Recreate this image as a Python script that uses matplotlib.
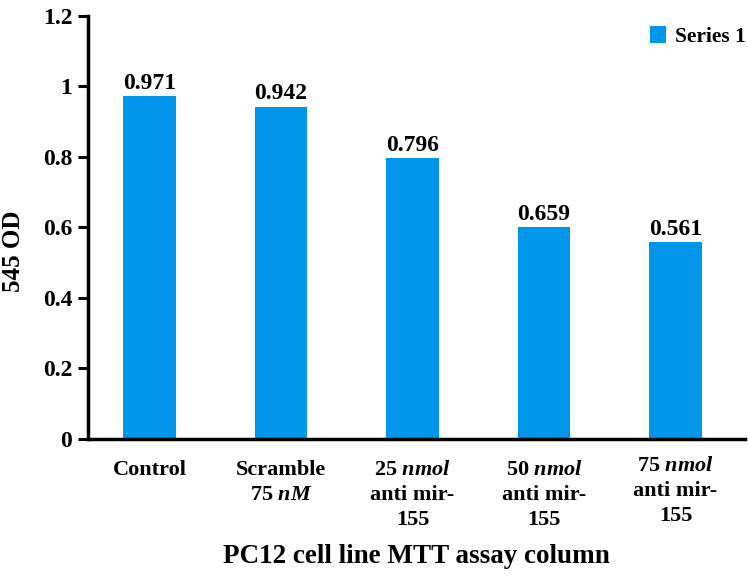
import matplotlib
matplotlib.use("Agg")
import matplotlib.pyplot as plt
from matplotlib.transforms import ScaledTranslation

plt.rcParams["font.family"] = ["Liberation Serif", "DejaVu Serif"]
plt.rcParams["mathtext.fontset"] = "custom"
plt.rcParams["mathtext.rm"] = "Liberation Serif:bold"
plt.rcParams["mathtext.it"] = "Liberation Serif:italic:bold"
plt.rcParams["mathtext.bf"] = "Liberation Serif:bold"

# data
categories = [
    "Control",
    "Scramble\n75 $\\it{nM}$",
    "25 $\\it{nmol}$\nanti mir-\n155",
    "50 $\\it{nmol}$\nanti mir-\n155",
    "75 $\\it{nmol}$\nanti mir-\n155",
]
bar_heights = [0.971, 0.942, 0.796, 0.6, 0.557]
value_labels = ["0.971", "0.942", "0.796", "0.659", "0.561"]
y_ticks = [0, 0.2, 0.4, 0.6, 0.8, 1, 1.2]
y_tick_labels = ["0", "0.2", "0.4", "0.6", "0.8", "1", "1.2"]

BAR_COLOR = "#0096EA"

fig = plt.figure(figsize=(7.48, 5.81), dpi=100)
W, H = 748, 581
ax = fig.add_axes([87.5 / W, 1 - 439 / H, (745 - 87.5) / W, (439 - 15.5) / H])

x = list(range(len(categories)))
ax.bar(x, bar_heights, width=0.4, color=BAR_COLOR, label="Series 1")

for xi, h, lab in zip(x, bar_heights, value_labels):
    ax.text(xi, h + 0.006, lab, ha="center", va="bottom",
            fontsize=17, fontweight="bold")

ax.set_xlim(-0.471, 4.528)
ax.set_ylim(0, 1.2)
ax.set_yticks(y_ticks)
ax.set_yticklabels(y_tick_labels, fontsize=17, fontweight="bold")
ax.set_xticks(x)
ax.set_xticklabels(categories, fontsize=16, fontweight="bold",
                   linespacing=1.35, va="top")
ax.tick_params(axis="x", length=0, pad=15)
ax.tick_params(axis="y", length=7, width=2.2, pad=4, direction="out")

# last label sits a little higher in the original
last = ax.get_xticklabels()[-1]
last.set_transform(last.get_transform() + ScaledTranslation(0, 4 / 100, fig.dpi_scale_trans))

for side in ("top", "right"):
    ax.spines[side].set_visible(False)
for side in ("left", "bottom"):
    ax.spines[side].set_linewidth(2.5)

ax.set_xlabel("PC12 cell line MTT assay column", fontsize=19.5,
              fontweight="bold", labelpad=10)
fig.text(14 / W, 1 - 251 / H, "545 OD", rotation=90, ha="center",
         va="center", fontsize=18, fontweight="bold")

ax.legend(loc="upper right", bbox_to_anchor=(1.03, 1.02), frameon=False,
          prop={"weight": "bold", "size": 15.5}, handlelength=0.75,
          handleheight=0.8, handletextpad=0.4)

fig.savefig("out.png", dpi=100)
